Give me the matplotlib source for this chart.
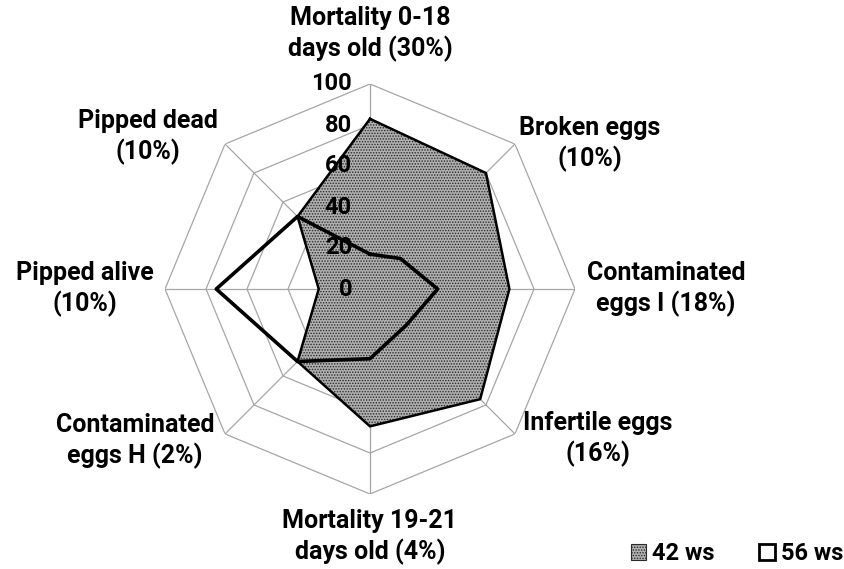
import numpy as np
import matplotlib
matplotlib.use('Agg')
from matplotlib import pyplot as plt
from matplotlib.patches import Patch

plt.rcParams['font.family'] = ['Roboto', 'DejaVu Sans']
plt.rcParams['font.weight'] = 'bold'
plt.rcParams['hatch.linewidth'] = 0.7

# data
categories = ['Mortality 0-18\ndays old (30%)', 'Broken eggs\n(10%)', 'Contaminated\neggs I (18%)',
              'Infertile eggs\n(16%)', 'Mortality 19-21\ndays old (4%)', 'Contaminated\neggs H (2%)',
              'Pipped alive\n(10%)', 'Pipped dead\n(10%)']
ws42 = [83, 80, 68, 76, 67, 50, 25, 50]
ws56 = [17, 21, 33, 25, 34, 50, 75, 50]
ticks = [0, 20, 40, 60, 80, 100]

n = len(categories)
angles = np.linspace(0, 2 * np.pi, n, endpoint=False)
ang_c = np.append(angles, angles[0])

fig = plt.figure(figsize=(8.45, 5.69), dpi=100)
cx, cy = 370 / 845, 1 - 289 / 569
w, h = 410 / 845, 410 / 569
ax = fig.add_axes([cx - w / 2, cy - h / 2, w, h], projection='polar')
ax.set_theta_zero_location('N')
ax.set_theta_direction(-1)
ax.set_ylim(0, 100)
ax.grid(False)
ax.spines['polar'].set_visible(False)
ax.set_xticks([])
ax.set_yticks([])

# octagon grid
for t in ticks[1:]:
    ax.plot(ang_c, [t] * (n + 1), color='#a6a6a6', lw=0.9, zorder=1)
for a in angles:
    ax.plot([a, a], [0, 100], color='#a6a6a6', lw=0.9, zorder=1)

# series
v42 = np.append(ws42, ws42[0])
v56 = np.append(ws56, ws56[0])
ax.fill(ang_c, v42, facecolor='#b0b0b0', edgecolor='#2a2a2a', hatch='......', lw=0, zorder=2)
ax.plot(ang_c, v42, color='black', lw=1.8, zorder=3)
ax.plot(ang_c, v56, color='black', lw=2.6, zorder=4)

# radial labels
for t in ticks:
    ax.annotate(str(t), xy=(0, t), xytext=(-18, 0), textcoords='offset pixels',
                ha='right', va='center', fontsize=17, fontweight='bold', zorder=5)

# category labels (pixel centres)
label_pos = [(370, 34), (590, 144), (666, 289), (598, 439),
             (370, 537), (135, 441), (85, 289), (148, 137)]
for lab, (px, py) in zip(categories, label_pos):
    fig.text(px / 845, 1 - py / 569, lab, ha='center', va='center',
             fontsize=18, fontweight='bold', linespacing=1.28)

handles = [Patch(facecolor='#b0b0b0', edgecolor='#2a2a2a', hatch='......', lw=0.8),
           Patch(facecolor='white', edgecolor='black', lw=2)]
fig.legend(handles, ['42 ws', '56 ws'], loc='lower right', bbox_to_anchor=(1.02, -0.027),
           ncol=2, frameon=False, fontsize=17, handlelength=0.65, handleheight=0.7,
           handletextpad=0.25, columnspacing=1.9, borderpad=0.3)

fig.savefig('out.png', dpi=100)
